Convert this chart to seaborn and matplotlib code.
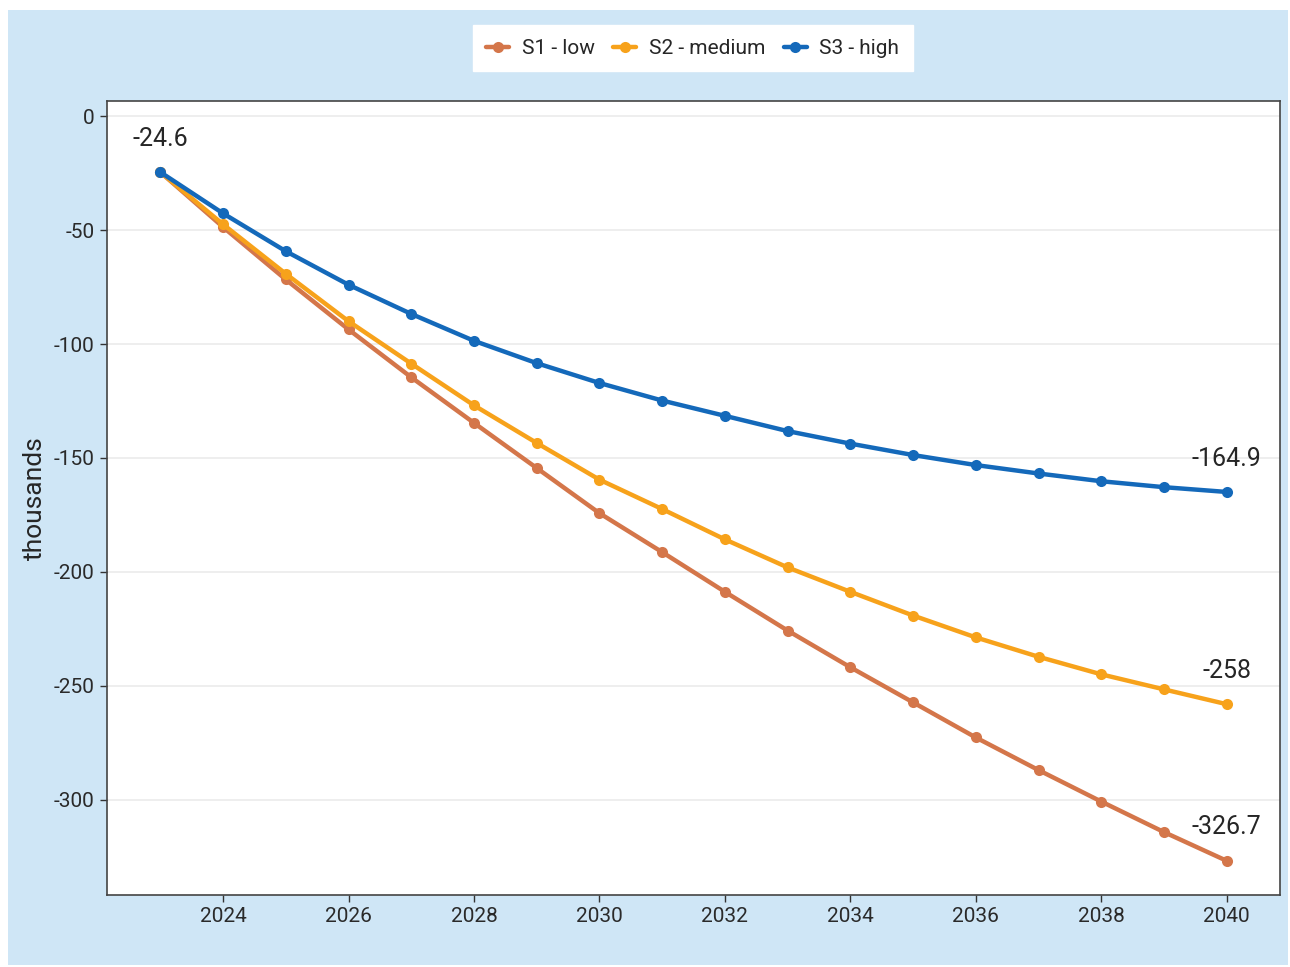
import pandas as pd
import seaborn as sns
import matplotlib.pyplot as plt
from matplotlib.patches import Rectangle

years = list(range(2023, 2041))
s1_low = [-24.6, -48.7, -71.7, -93.6, -114.6, -134.6, -154.4, -174.2, -191.3,
          -208.7, -225.7, -241.8, -257.2, -272.6, -286.9, -300.7, -314.1, -326.7]
s2_medium = [-24.6, -47.5, -69.2, -90.0, -108.6, -126.9, -143.4, -159.5, -172.4,
             -185.7, -198.0, -208.7, -219.1, -228.7, -237.2, -244.9, -251.5, -258.0]
s3_high = [-24.6, -42.7, -59.3, -74.0, -86.8, -98.6, -108.4, -117.1, -124.8,
           -131.5, -138.2, -143.7, -148.7, -153.1, -156.8, -160.2, -162.8, -164.9]
series_names = ["S1 - low", "S2 - medium", "S3 - high"]
colors = ["#D4764A", "#F7A21B", "#1469BA"]
y_ticks = [0, -50, -100, -150, -200, -250, -300]
x_ticks = [2024, 2026, 2028, 2030, 2032, 2034, 2036, 2038, 2040]

df = pd.DataFrame({"year": years, series_names[0]: s1_low,
                   series_names[1]: s2_medium, series_names[2]: s3_high})
long = df.melt(id_vars="year", var_name="scenario", value_name="value")

sns.set_style("white")
plt.rcParams['font.family'] = ['Roboto', 'DejaVu Sans']
plt.rcParams['axes.unicode_minus'] = False

fig = plt.figure(figsize=(12.9, 9.67), dpi=100, facecolor="white")
# light blue background card
fig.patches.append(Rectangle((8/1290, 1 - 965/967), 1280/1290, 955/967,
                             transform=fig.transFigure, facecolor="#CFE6F6",
                             edgecolor="none", zorder=-10))

ax = fig.add_axes([107/1290, 1 - 895/967, 1173/1290, 794/967])
ax.set_facecolor("white")

sns.lineplot(data=long, x="year", y="value", hue="scenario", palette=colors,
             hue_order=series_names, marker="o", markersize=8, markeredgewidth=0,
             linewidth=3.2, ax=ax, legend=True)

# start and end labels
ax.annotate(f"{s1_low[0]:g}", (years[0], s1_low[0]), xytext=(0, 24),
            textcoords="offset points", ha="center", va="center", fontsize=18)
for vals in [s1_low, s2_medium, s3_high]:
    ax.annotate(f"{vals[-1]:g}", (years[-1], vals[-1]), xytext=(0, 24),
                textcoords="offset points", ha="center", va="center", fontsize=18)

ax.set_xlim(2022.15, 2040.85)
ax.set_ylim(-341.7, 6.6)
ax.set_xticks(x_ticks)
ax.set_yticks(y_ticks)
ax.set_yticklabels([str(v) for v in y_ticks])
ax.yaxis.grid(True, color="#EBEBEB", linewidth=1.2)
ax.xaxis.grid(False)
ax.tick_params(axis="both", labelsize=15, length=5, width=1, color="#333333",
               labelcolor="#2A2A2A", bottom=True, left=True, pad=4)
for s in ax.spines.values():
    s.set_color("#444444")
    s.set_linewidth(1.2)
ax.set_xlabel("")
ax.set_ylabel("thousands", fontsize=19, labelpad=5)

handles, labels = ax.get_legend_handles_labels()
ax.legend(handles, labels, loc="center", bbox_to_anchor=(0.537, 0.950),
          bbox_transform=fig.transFigure, ncol=3, frameon=True, fancybox=False,
          edgecolor="white", facecolor="white", framealpha=1, fontsize=15,
          handlelength=1.1, handletextpad=0.6, columnspacing=0.9,
          borderpad=0.65)

fig.savefig("out.png", dpi=100, facecolor="white")
